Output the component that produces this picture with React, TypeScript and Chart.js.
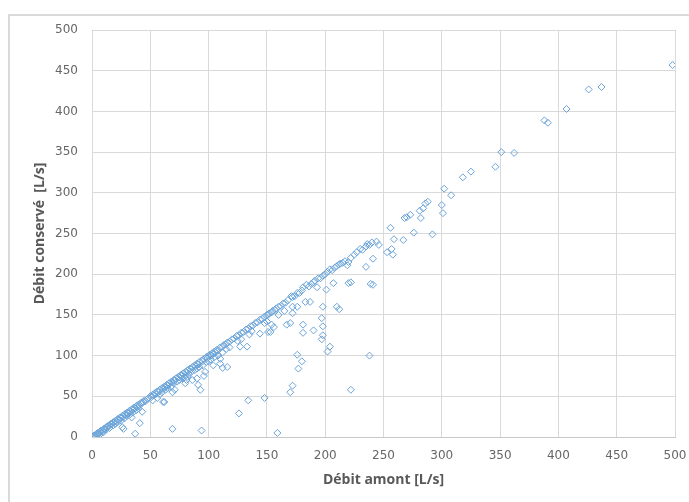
import React, { useEffect, useRef } from "react";
import { Chart, registerables } from "chart.js";

Chart.register(...registerables);

// Débit amont [L/s] (x), Débit conservé [L/s] (y)
const points0to50: [number, number][] = [
  [0, 0], [1, 1], [2, 2], [3, 2], [4, 4], [5, 5], [6, 5], [7, 7], [8, 8], [9, 8],
  [10, 10], [11, 10], [12, 12], [13, 12], [14, 14], [15, 14], [16, 16], [17, 16], [18, 18], [19, 18],
  [20, 20], [21, 19], [22, 22], [23, 21], [24, 24], [25, 23], [26, 26], [27, 25], [28, 28], [29, 27],
  [30, 30], [31, 29], [32, 32], [33, 31], [34, 34], [35, 33], [36, 36], [37, 35], [38, 38], [39, 37],
  [40, 40], [41, 39], [42, 42], [44, 43], [45, 45], [46, 44], [48, 47],
  [5, 3], [8, 5], [12, 9], [15, 11], [18, 14], [20, 16], [22, 18], [25, 20], [28, 23], [30, 26],
  [33, 28], [35, 30], [38, 33], [40, 35], [3, 0], [6, 2], [10, 6], [26, 12], [27, 10], [34, 24],
  [37, 4], [41, 17], [43, 31], [43, 42],
];

const points50to100: [number, number][] = [
  [50, 50], [51, 49], [52, 52], [53, 51], [54, 54], [55, 53], [56, 56], [57, 55], [58, 58], [60, 60],
  [61, 59], [62, 62], [63, 61], [64, 64], [65, 63], [66, 66], [68, 68], [69, 67], [70, 70], [71, 69],
  [72, 72], [74, 74], [75, 73], [76, 76], [77, 75], [78, 78], [80, 80], [81, 79], [82, 82], [84, 84],
  [85, 83], [86, 86], [88, 88], [89, 87], [90, 90], [91, 89], [92, 92], [94, 94], [95, 93], [96, 96],
  [98, 98], [99, 97], [100, 100],
  [52, 45], [56, 48], [58, 52], [60, 55], [63, 58], [65, 60], [68, 62], [70, 66], [73, 68], [75, 70],
  [78, 72], [80, 75], [83, 77], [85, 80], [88, 82], [90, 84], [92, 86], [95, 88], [97, 80], [98, 92],
  [100, 93], [96, 75], [90, 72], [86, 70], [82, 74], [69, 10], [94, 8], [69, 55], [71, 58], [80, 66],
  [81, 70], [91, 64], [93, 58], [62, 43], [61, 43],
];

const points100to150: [number, number][] = [
  [101, 101], [102, 100], [103, 103], [104, 102], [105, 105], [106, 104], [107, 107], [108, 106], [110, 110], [112, 111],
  [113, 113], [115, 114], [116, 116], [118, 117], [120, 120], [122, 121], [124, 124], [126, 125], [128, 128], [130, 129],
  [132, 132], [134, 133], [136, 136], [138, 137], [140, 140], [142, 141], [144, 144], [146, 145], [148, 148], [150, 150],
  [102, 95], [105, 98], [108, 100], [110, 96], [112, 104], [115, 108], [118, 110], [112, 85], [116, 86], [104, 88],
  [125, 118], [128, 120], [127, 111], [133, 111], [135, 126], [137, 130], [144, 127], [148, 140], [150, 142], [153, 129],
  [156, 135], [110, 90], [126, 29], [134, 45], [148, 48], [159, 5],
];

const points150to200: [number, number][] = [
  [151, 150], [152, 152], [154, 153], [155, 155], [157, 156], [158, 158], [160, 160], [162, 161], [164, 164], [166, 165],
  [168, 168], [171, 173], [172, 172], [174, 173], [176, 177], [178, 177], [180, 180], [181, 184], [184, 187], [186, 185],
  [188, 188], [190, 190], [191, 192], [193, 184], [194, 195], [196, 195], [198, 198], [200, 200],
  [154, 138], [151, 129], [160, 150], [165, 155], [167, 138], [170, 140], [172, 160], [172, 152], [176, 160], [181, 138],
  [181, 128], [183, 166], [187, 166], [190, 131], [170, 55], [172, 63], [176, 101], [180, 93], [177, 84], [197, 146],
  [198, 136], [198, 125], [198, 160], [197, 120],
];

const points200to250: [number, number][] = [
  [202, 203], [204, 206], [206, 205], [208, 208], [210, 210], [212, 212], [213, 213], [215, 214], [217, 216], [219, 211],
  [220, 215], [222, 220], [225, 224], [227, 227], [230, 231], [232, 230], [235, 234], [236, 237], [238, 236], [240, 239],
  [244, 240], [246, 236],
  [201, 181], [207, 189], [220, 189], [222, 190], [239, 188], [241, 187], [241, 219], [235, 209], [212, 157], [210, 160],
  [204, 111], [202, 105], [238, 100], [222, 58],
];

const points250to500: [number, number][] = [
  [253, 227], [257, 231], [258, 224], [256, 257], [259, 243], [267, 242], [276, 251], [268, 269], [270, 270], [273, 273],
  [282, 269], [281, 278], [284, 281], [286, 287], [288, 289], [292, 249], [300, 285], [301, 275], [302, 305], [308, 297],
  [318, 319], [325, 326], [346, 332], [351, 350], [362, 349], [388, 389], [391, 386], [407, 403], [426, 427], [437, 430],
  [498, 457],
];

const axisMin = 0;
const axisMax = 500;
const axisStep = 50;
const xTitle = "Débit amont [L/s]";
const yTitle = "Débit conservé  [L/s]";

const allPoints = [
  ...points0to50,
  ...points50to100,
  ...points100to150,
  ...points150to200,
  ...points200to250,
  ...points250to500,
];

export default function App() {
  const ref = useRef<HTMLCanvasElement>(null);

  useEffect(() => {
    if (!ref.current) return;
    const tickFont = { family: "DejaVu Sans", size: 12 };
    const titleFont = { family: "Open Sans", size: 14, weight: "bold" as const };
    const chart = new Chart(ref.current, {
      type: "scatter",
      data: {
        datasets: [
          {
            data: allPoints.map(([x, y]) => ({ x, y })),
            pointStyle: "rectRot",
            pointRadius: 3.5,
            borderColor: "#6aa3d8",
            backgroundColor: "rgba(255,255,255,0)",
            borderWidth: 1,
          },
        ],
      },
      options: {
        animation: false,
        responsive: false,
        layout: { padding: { left: 24, top: 30, right: 14, bottom: 0 } },
        plugins: { legend: { display: false }, tooltip: { enabled: false } },
        scales: {
          x: {
            type: "linear",
            min: axisMin,
            max: axisMax,
            ticks: { stepSize: axisStep, padding: 12, color: "#666666", font: tickFont, maxRotation: 0 },
            grid: { color: "#d9d9d9", drawTicks: false },
            border: { color: "#c8c8c8" },
            title: { display: true, text: xTitle, color: "#595959", font: titleFont, padding: { top: 0, bottom: 14 } },
            afterFit: (s: any) => {
              s.height = 65;
              s.paddingLeft = 0;
              s.paddingRight = 0;
            },
          },
          y: {
            type: "linear",
            min: axisMin,
            max: axisMax,
            ticks: { stepSize: axisStep, padding: 14, color: "#666666", font: tickFont },
            grid: { color: "#d9d9d9", drawTicks: false },
            border: { color: "#d9d9d9" },
            title: { display: true, text: yTitle, color: "#595959", font: titleFont, padding: { top: 8, bottom: 0 } },
            afterFit: (s: any) => {
              s.width = 68;
              s.paddingTop = 0;
              s.paddingBottom = 0;
            },
          },
        },
      },
    });
    return () => chart.destroy();
  }, []);

  return (
    <div style={{ position: "fixed", left: 0, top: 0, width: 689, height: 502, background: "#fff", overflow: "hidden" }}>
      <div
        style={{
          position: "absolute",
          left: 8,
          top: 14,
          width: 800,
          height: 600,
          borderLeft: "2px solid #dadada",
          borderTop: "2px solid #dadada",
        }}
      />
      <canvas ref={ref} width={689} height={502} style={{ position: "absolute", left: 0, top: 0, width: 689, height: 502 }} />
    </div>
  );
}
